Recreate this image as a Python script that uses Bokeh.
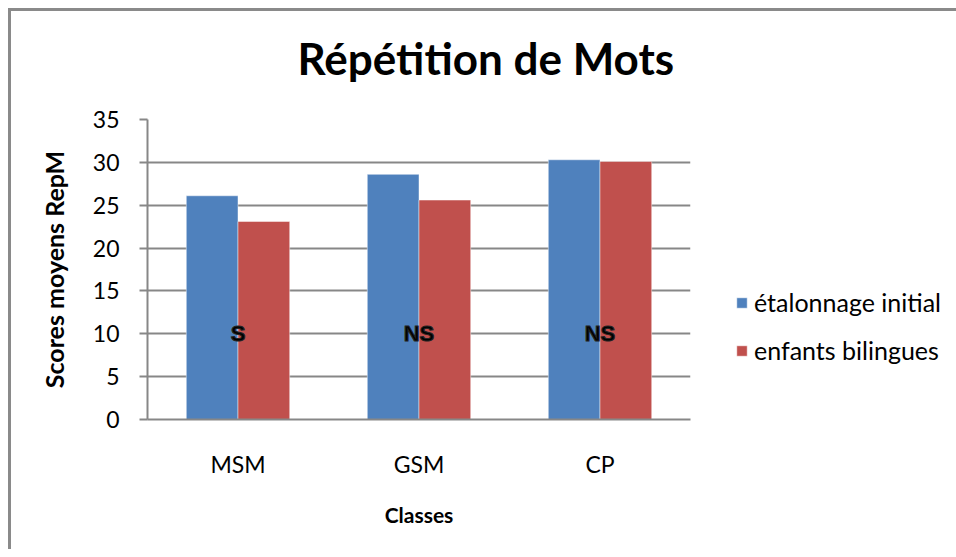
from bokeh.plotting import figure
from bokeh.models import FactorRange, Range1d, Legend, LegendItem, ColumnDataSource, Title
from bokeh.transform import dodge
from bokeh.core.properties import value
from bokeh.embed import file_html
from bokeh.resources import INLINE

classes = ["MSM", "GSM", "CP"]
etalonnage = [26.1, 28.6, 30.3]
bilingues = [23.1, 25.6, 30.1]
signif = ["S", "NS", "NS"]
signif_y = [10, 10, 10]
y_ticks = [0, 5, 10, 15, 20, 25, 30, 35]

FONT = "Lato"
GRID = "#878787"
FRAME_LINE = "#8a8a8a"
BLUE = "#4F81BD"
RED = "#C0504D"

src = ColumnDataSource(dict(cls=classes, a=etalonnage, b=bilingues, s=signif, sy=signif_y))

p = figure(frame_width=543, frame_height=300, output_backend="svg", toolbar_location=None,
           x_range=FactorRange(*classes, range_padding=0), y_range=Range1d(0, 35),
           min_border_left=139, min_border_top=0, min_border_right=266, min_border_bottom=130)
p.title = None
t = Title(text="Répétition de Mots", align="left", text_font=FONT, text_font_size="44px",
          text_font_style="bold", text_color="black", offset=150, standoff=72)
p.add_layout(t, "above")

p.outline_line_color = None
p.border_fill_color = None
p.background_fill_color = "white"
# chart-area border (top and left edges) drawn as CSS background lines
p.styles = {
    "margin-left": "8px",
    "margin-top": "-7px",
    "background-color": "white",
    "background-image": f"linear-gradient({FRAME_LINE},{FRAME_LINE}), linear-gradient({FRAME_LINE},{FRAME_LINE})",
    "background-size": "100% 3px, 3px 100%",
    "background-position": "0 15px, 0 15px",
    "background-repeat": "no-repeat",
}

bw = 0.2857
ra = p.vbar(x=dodge("cls", -bw / 2, range=p.x_range), top="a", width=bw, source=src,
            fill_color=BLUE, line_color="white", line_alpha=0.45, line_width=1)
rb = p.vbar(x=dodge("cls", bw / 2, range=p.x_range), top="b", width=bw, source=src,
            fill_color=RED, line_color="white", line_alpha=0.45, line_width=1)

p.text(x="cls", y="sy", text="s", source=src, text_align="center", text_baseline="middle",
       text_font=value("Liberation Sans"), text_font_size="22px", text_font_style="bold",
       text_color="black", text_outline_color="#222222")

# axes
p.xgrid.grid_line_color = None
p.ygrid.grid_line_color = GRID
p.ygrid.grid_line_width = 2
p.yaxis.ticker = y_ticks
p.yaxis.axis_line_color = GRID
p.yaxis.axis_line_width = 2
p.yaxis.major_tick_line_color = GRID
p.yaxis.major_tick_line_width = 2
p.yaxis.major_tick_out = 8
p.yaxis.major_tick_in = 0
p.yaxis.minor_tick_line_color = None
p.yaxis.major_label_text_font = FONT
p.yaxis.major_label_text_font_size = "23px"
p.yaxis.major_label_text_color = "black"
p.yaxis.major_label_standoff = 20
p.yaxis.axis_label = "Scores moyens RepM"
p.yaxis.axis_label_text_font = FONT
p.yaxis.axis_label_text_font_size = "25px"
p.yaxis.axis_label_text_font_style = "bold"
p.yaxis.axis_label_text_color = "black"
p.yaxis.axis_label_standoff = 21

p.xaxis.axis_line_color = GRID
p.xaxis.axis_line_width = 2
p.xaxis.major_tick_line_color = None
p.xaxis.minor_tick_line_color = None
p.xaxis.major_tick_out = 0
p.xaxis.major_label_text_font = FONT
p.xaxis.major_label_text_font_size = "23px"
p.xaxis.major_label_text_color = "black"
p.xaxis.major_label_standoff = 30
p.xaxis.axis_label = "Classes"
p.xaxis.axis_label_text_font = FONT
p.xaxis.axis_label_text_font_size = "21px"
p.xaxis.axis_label_text_font_style = "bold"
p.xaxis.axis_label_text_color = "black"
p.xaxis.axis_label_standoff = 21

legend = Legend(items=[LegendItem(label="étalonnage initial", renderers=[ra]),
                       LegendItem(label="enfants bilingues", renderers=[rb])],
                location="bottom_left", border_line_color=None, background_fill_alpha=0,
                padding=0, margin=45, spacing=0, glyph_width=13, glyph_height=13,
                label_standoff=6, label_height=48, label_text_font=FONT,
                label_text_font_size="25px", label_text_color="black")
p.add_layout(legend, "right")

open("out.html", "w").write(file_html(p, INLINE))
